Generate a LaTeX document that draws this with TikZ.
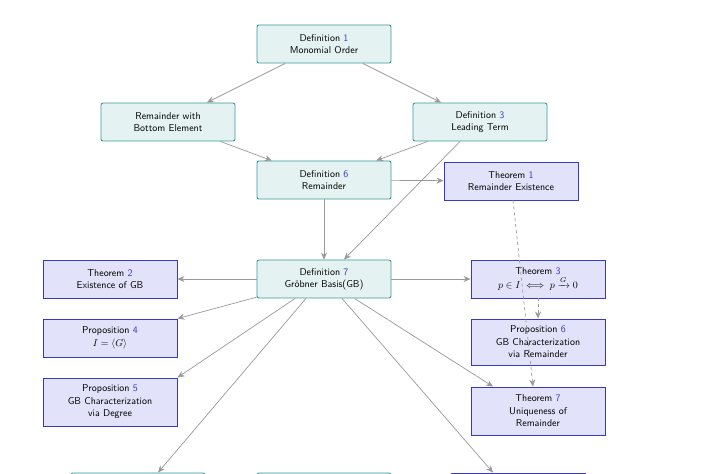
\documentclass[tikz,border=0pt]{standalone}
\usepackage{amsmath}
\usetikzlibrary{arrows.meta}
\definecolor{defline}{HTML}{3A9A9A}
\definecolor{deffill}{HTML}{E4F2F1}
\definecolor{thmline}{HTML}{3838C8}
\definecolor{thmfill}{HTML}{E2E2FA}
\newcommand{\num}[1]{\textcolor{thmline}{#1}}
\begin{document}
\begin{tikzpicture}[
    x=1bp, y=-1bp,
    every node/.style={font=\sffamily\fontsize{10}{12.5}\selectfont, align=center, inner sep=2pt},
    defbox/.style={draw=defline, fill=deffill, rounded corners=2pt, line width=0.9pt, minimum width=134bp, minimum height=38bp},
    thmbox/.style={draw=thmline, fill=thmfill, line width=0.9pt, minimum width=134bp, minimum height=38bp},
    link/.style={-{Stealth[length=7pt,width=6pt]}, draw=gray!80, line width=0.7pt},
    dlink/.style={link, dashed},
]
\useasboundingbox (0,0) rectangle (720,474);

% Definitions
\node[defbox] (d1) at (324,44) {Definition \num{1}\\Monomial Order};
\node[defbox] (rem) at (168,122) {Remainder with\\Bottom Element};
\node[defbox] (d3) at (480,122) {Definition \num{3}\\Leading Term};
\node[defbox] (d6) at (324,180) {Definition \num{6}\\Remainder};
\node[defbox] (d7) at (324,279) {Definition \num{7}\\Gr\"obner Basis(GB)};

% Theorems and propositions
\node[thmbox] (t1) at (511,181) {Theorem \num{1}\\Remainder Existence};
\node[thmbox] (t2) at (110,279) {Theorem \num{2}\\Existence of GB};
\node[thmbox] (t3) at (538,279) {Theorem \num{3}\\[1pt]$p\in I \iff p\xrightarrow{G}0$};
\node[thmbox] (p4) at (110,338) {Proposition \num{4}\\$I=\langle G\rangle$};
\node[thmbox, minimum height=46bp] (p6) at (538,342) {Proposition \num{6}\\GB Characterization\\via Remainder};
\node[thmbox, minimum height=48bp] (p5) at (110,402) {Proposition \num{5}\\GB Characterization\\via Degree};
\node[thmbox, minimum height=48bp] (t7) at (538,411) {Theorem \num{7}\\Uniqueness of\\Remainder};

% Cut-off row at the bottom
\node[defbox, minimum height=40bp] (b1) at (138,493) {};
\node[defbox, minimum height=40bp] (b2) at (324,493) {};
\node[thmbox, minimum height=40bp] (b3) at (518,493) {};

% Links
\draw[link] (d1) -- (rem);
\draw[link] (d1) -- (d3);
\draw[link] (rem) -- (d6);
\draw[link] (d3) -- (d6);
\draw[link] ([xshift=-20bp]d3.south) -- ([xshift=20bp]d7.north);
\draw[link] (d6) -- (t1);
\draw[link] (d6) -- (d7);
\draw[link] (d7) -- (t2);
\draw[link] (d7) -- (t3);
\draw[link] (d7) -- (p4.north east);
\draw[link] (d7) -- (p5.north east);
\draw[link] (d7) -- ([xshift=-45bp]t7.north);
\draw[link] ([xshift=-18bp]d7.south) -- ([xshift=20bp]b1.north);
\draw[link] ([xshift=18bp]d7.south) -- ([xshift=-25bp]b3.north);
\draw[dlink] ([xshift=2bp]t1.south) -- ([xshift=-5bp]t7.north);
\draw[dlink] (t3) -- (p6);
\end{tikzpicture}
\end{document}
